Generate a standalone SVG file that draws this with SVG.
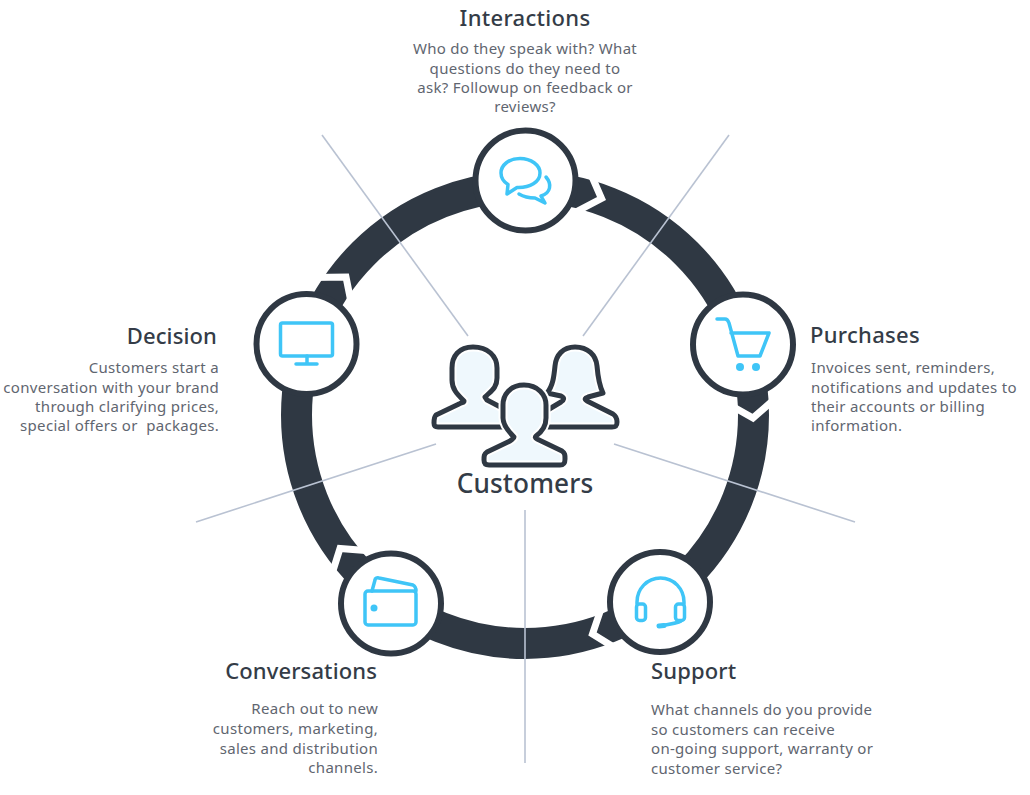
<svg xmlns="http://www.w3.org/2000/svg" width="1030" height="795" viewBox="0 0 1030 795">
<style>
.t{font-family:"Noto Sans","Liberation Sans",sans-serif;font-size:22px;font-weight:500;fill:#343c47;letter-spacing:.12px}
.b{font-family:"Noto Sans","Liberation Sans",sans-serif;font-size:15px;fill:#5f6670;letter-spacing:.3px;white-space:pre}
.n{fill:#fff;stroke:#2f3843;stroke-width:6}
.i{fill:none;stroke:#3fc5f7;stroke-width:3.5;stroke-linecap:round;stroke-linejoin:round}
.g{fill:none;stroke:#fff;stroke-width:7;stroke-linejoin:miter}
.pf{fill:#eff8fd;stroke:#fff;stroke-width:9;stroke-linejoin:round}
.ps{fill:none;stroke:#2f3843;stroke-width:5;stroke-linejoin:round}
</style>
<defs>
<path id="pl" d="M473,347C459,347 452,356 452,368L452,380C452,389 457,394 464,401C464,403 462,402 459,404L436,415C434,417 434,419 434,423C434,426 435,427 438,427L510,427L510,412L487,400L485,397C491,391 497,388 497,378L497,368C497,356 488,347 473,347Z"/>
<path id="pr" d="M575,347C563,347 556,355 555,366C554,376 553,386 547,393L561,396C565,398 564,400 561,402L546,411L546,427L612,427C616,427 617,426 617,422C617,418 616,416 613,414L587,401C584,399 585,398 588,397L603,393C600,387 598,378 597,366C596,355 588,347 575,347Z"/>
<path id="pc" d="M524,385C510,385 503,395 503,405L503,418C503,425 508,431 514,437C514,439 512,439 510,441L487,452C484,454 484,456 484,460C484,464 486,465 489,465L560,465C564,465 565,463 565,459C565,455 565,453 562,451L537,439C535,438 535,437 536,436C543,431 546,425 546,418L546,405C546,395 538,385 524,385Z"/>
</defs>
<rect width="1030" height="795" fill="#fff"/>
<g id="connectors">
<circle cx="525" cy="415" r="228.500" fill="none" stroke="#2f3843" stroke-width="31"/>
<polyline class="g" points="590,172 601.500,198.500 571,214.500"/>
<polyline class="g" points="730,405 753,418 777,397"/>
<polyline class="g" points="603,603 592.500,634 620,651"/>
<polyline class="g" points="331,577 340,548.500 372,551"/>
<polyline class="g" points="312,277.500 346,277 352,307"/>
<g stroke="#b9c2d2" stroke-width="1.600">
<line x1="322" y1="135" x2="468" y2="336"/>
<line x1="729" y1="135" x2="583" y2="336"/>
<line x1="855" y1="522" x2="614" y2="444"/>
<line x1="525" y1="763" x2="525" y2="510"/>
<line x1="196" y1="522" x2="436" y2="444"/>
</g>
</g>
<g id="customers">
<use href="#pl" class="pf"/><use href="#pl" class="ps"/>
<use href="#pr" class="pf"/><use href="#pr" class="ps"/>
<use href="#pc" class="pf"/><use href="#pc" class="ps"/>
<text class="t" x="525" y="493" text-anchor="middle" style="font-size:26.200px">Customers</text>
</g>
<g id="interactions">
<circle class="n" cx="525.500" cy="180.500" r="50"/>
<path class="i" d="M520,158.500C509,158.500 501,165 501,173C501,178 504,182 508,184.500L507,194L517,187.500C530,188 540,182 540,173C540,165 531,158.500 520,158.500Z"/>
<path class="i" d="M546,177C552,184 551,193 541,196L545,203L535,198C529,198 524,197 519,194"/>
<text class="t" x="525" y="26" text-anchor="middle" style="letter-spacing:.3px">Interactions</text>
<text class="b" text-anchor="middle"><tspan x="525" y="54">Who do they speak with? What</tspan><tspan x="525" y="74">questions do they need to</tspan><tspan x="525" y="93">ask? Followup on feedback or</tspan><tspan x="525" y="112">reviews?</tspan></text>
</g>
<g id="purchases">
<circle class="n" cx="743" cy="344.500" r="50"/>
<path class="i" d="M717,319L725,319C727,319 728,320 729,323L738,356L760,356L769,333L731,333"/>
<circle cx="740" cy="367" r="4" fill="#3fc5f7"/><circle cx="756" cy="367" r="4" fill="#3fc5f7"/>
<text class="t" x="810" y="343" style="letter-spacing:.3px">Purchases</text>
<text class="b"><tspan x="811" y="373">Invoices sent, reminders,</tspan><tspan x="811" y="393">notifications and updates to</tspan><tspan x="811" y="412">their accounts or billing</tspan><tspan x="811" y="431">information.</tspan></text>
</g>
<g id="support">
<circle class="n" cx="660" cy="602" r="50"/>
<path class="i" d="M637,604L637,602C637,589 647,578 660.500,578C674,578 684,589 684,602L684,604"/>
<rect class="i" x="636.500" y="604" width="9" height="16.500" rx="3"/>
<rect class="i" x="675.500" y="604" width="9" height="16.500" rx="3"/>
<path class="i" d="M681,621C678,623 672,624 660,626"/>
<line x1="659" y1="626" x2="664" y2="625.500" stroke="#3fc5f7" stroke-width="5" stroke-linecap="round"/>
<text class="t" x="651" y="679">Support</text>
<text class="b"><tspan x="651" y="715">What channels do you provide</tspan><tspan x="651" y="735">so customers can receive</tspan><tspan x="651" y="754">on-going support, warranty or</tspan><tspan x="651" y="774">customer service?</tspan></text>
</g>
<g id="conversations">
<circle class="n" cx="391" cy="603.500" r="50"/>
<rect class="i" x="365" y="591" width="51" height="34" rx="3"/>
<path class="i" d="M372,591L375,580C375,578 377,577.500 379,578L413,585C415,586 416,587 416,591"/>
<circle cx="374" cy="608" r="3.500" fill="#3fc5f7"/>
<text class="t" x="377" y="679" text-anchor="end">Conversations</text>
<text class="b" text-anchor="end"><tspan x="378" y="714">Reach out to new</tspan><tspan x="378" y="734">customers, marketing,</tspan><tspan x="378" y="754">sales and distribution</tspan><tspan x="378" y="773">channels.</tspan></text>
</g>
<g id="decision">
<circle class="n" cx="306.500" cy="344" r="50"/>
<rect class="i" x="280.500" y="323" width="52" height="33" rx="2"/>
<path class="i" d="M307,356L307,364M296,364L317,364"/>
<text class="t" x="217" y="344" text-anchor="end">Decision</text>
<text class="b" text-anchor="end"><tspan x="219" y="373">Customers start a</tspan><tspan x="219" y="393">conversation with your brand</tspan><tspan x="219" y="412">through clarifying prices,</tspan><tspan x="219" y="431">special offers or  packages.</tspan></text>
</g>
</svg>
